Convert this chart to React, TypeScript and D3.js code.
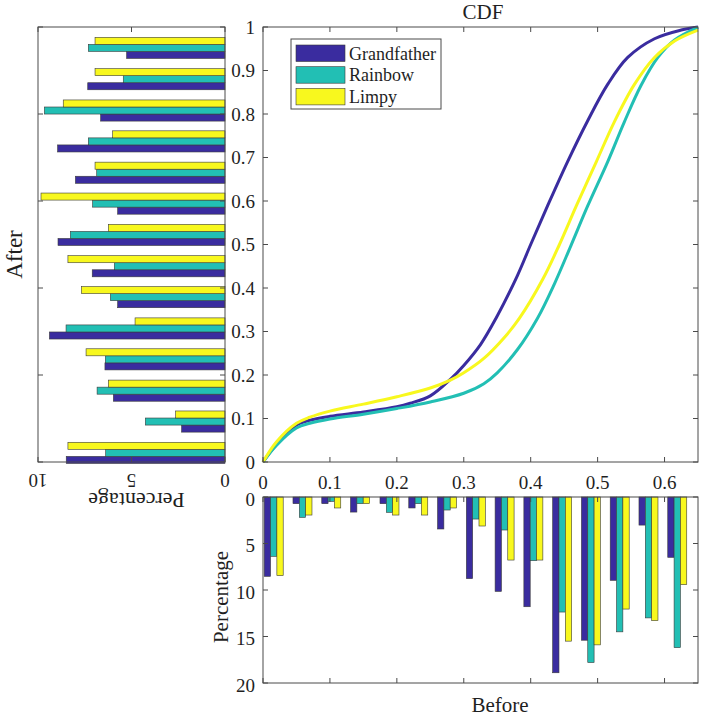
import React from "react";
import * as d3 from "d3";

const seriesNames = ["Grandfather", "Rainbow", "Limpy"];
const seriesColors = ["#3A2C9F", "#22BFB4", "#F8F81E"];

// CDF samples (x = Before value, y = cumulative probability)
const cdfGrandfather: [number, number][] = [
  [0, 0], [0.02, 0.04], [0.05, 0.085], [0.07, 0.096], [0.1, 0.105], [0.15, 0.115],
  [0.2, 0.127], [0.22, 0.135], [0.25, 0.152], [0.28, 0.19], [0.3, 0.222], [0.325, 0.27],
  [0.348, 0.33], [0.38, 0.428], [0.4, 0.5], [0.425, 0.588], [0.455, 0.69],
  [0.485, 0.784], [0.515, 0.868], [0.545, 0.93], [0.585, 0.973], [0.625, 0.993], [0.65, 1.0],
];
const cdfRainbow: [number, number][] = [
  [0, 0], [0.02, 0.038], [0.05, 0.078], [0.07, 0.089], [0.1, 0.099], [0.15, 0.11],
  [0.2, 0.123], [0.25, 0.138], [0.3, 0.158], [0.33, 0.18], [0.35, 0.205], [0.38, 0.258],
  [0.41, 0.33], [0.435, 0.408], [0.46, 0.497], [0.485, 0.588], [0.515, 0.69],
  [0.54, 0.782], [0.565, 0.866], [0.59, 0.93], [0.615, 0.97], [0.65, 0.999],
];
const cdfLimpy: [number, number][] = [
  [0, 0], [0.02, 0.046], [0.05, 0.089], [0.07, 0.103], [0.1, 0.117], [0.15, 0.133],
  [0.2, 0.15], [0.25, 0.17], [0.28, 0.188], [0.3, 0.205], [0.33, 0.238], [0.36, 0.285],
  [0.383, 0.33], [0.418, 0.42], [0.443, 0.5], [0.468, 0.588], [0.498, 0.69],
  [0.525, 0.782], [0.555, 0.868], [0.585, 0.93], [0.615, 0.968], [0.65, 0.993],
];

// Histogram of "After" (left panel)
const afterCenters = [0.021, 0.093, 0.164, 0.236, 0.307, 0.379, 0.45, 0.522, 0.594, 0.665, 0.737, 0.808, 0.88, 0.952];
const afterGrandfather = [8.49, 2.32, 5.97, 6.42, 9.39, 5.74, 7.1, 8.93, 5.74, 8.0, 8.95, 6.65, 7.34, 5.26];
const afterRainbow = [6.38, 4.26, 6.84, 6.4, 8.5, 6.13, 5.92, 8.27, 7.08, 6.86, 7.31, 9.66, 5.44, 7.31];
const afterLimpy = [8.4, 2.64, 6.24, 7.43, 4.81, 7.68, 8.4, 6.24, 9.84, 6.95, 6.01, 8.65, 6.95, 6.95];

// Histogram of "Before" (bottom panel)
const beforeCenters = [0.016, 0.059, 0.102, 0.145, 0.189, 0.232, 0.275, 0.318, 0.361, 0.404, 0.447, 0.49, 0.533, 0.576, 0.619];
const beforeGrandfather = [8.53, 0.72, 0.72, 1.62, 0.72, 1.18, 3.44, 8.78, 10.15, 11.8, 18.9, 15.4, 8.96, 3.02, 6.49];
const beforeRainbow = [6.38, 2.19, 0.47, 0.72, 1.65, 0.72, 1.4, 2.37, 3.55, 6.85, 12.37, 17.8, 14.5, 13.0, 16.2];
const beforeLimpy = [8.46, 1.94, 1.18, 0.72, 1.94, 1.94, 1.18, 3.12, 6.78, 6.78, 15.5, 15.9, 12.05, 13.3, 9.43];

const mainXTicks = [0, 0.1, 0.2, 0.3, 0.4, 0.5, 0.6];
const mainYTicks = [0, 0.1, 0.2, 0.3, 0.4, 0.5, 0.6, 0.7, 0.8, 0.9, 1];
const leftXTicks = [0, 5, 10];
const leftYTicks = [0, 0.2, 0.4, 0.6, 0.8, 1];
const bottomYTicks = [0, 5, 10, 15, 20];

const FONT = "Liberation Serif, Times New Roman, Times, serif";
const AX = "#4a4a4a";
const EDGE = "#3a3a3a";
const TL = 5;
const TXT = "#1f1f1f";

export default function App() {
  // layout
  const mL = 263, mR = 698, mT = 27, mB = 462;
  const lL = 38, lR = 225;
  const bT = 497, bB = 683;

  const x = d3.scaleLinear().domain([0, 0.65]).range([mL, mR]);
  const y = d3.scaleLinear().domain([0, 1]).range([mB, mT]);
  const lx = d3.scaleLinear().domain([0, 10]).range([lR, lL]);
  const by = d3.scaleLinear().domain([0, 20]).range([bT, bB]);

  const line = d3
    .line<[number, number]>()
    .x((d) => x(d[0]))
    .y((d) => y(d[1]))
    .curve(d3.curveCatmullRom.alpha(0.5));

  const cdfs = [cdfGrandfather, cdfRainbow, cdfLimpy];
  const afterSeries = [afterGrandfather, afterRainbow, afterLimpy];
  const beforeSeries = [beforeGrandfather, beforeRainbow, beforeLimpy];

  const afterStep = Math.abs(y(afterCenters[1]) - y(afterCenters[0]));
  const afterThick = afterStep * 0.225;
  const beforeStep = x(beforeCenters[1]) - x(beforeCenters[0]);
  const beforeThick = beforeStep * 0.22;

  const ts = { fontFamily: FONT };

  return (
    <svg width={702} height={716} style={{ position: "absolute", left: 0, top: 0, background: "#fff", fontFamily: FONT }}>
      <rect x={0} y={0} width={702} height={716} fill="#fff" />

      {/* ===== Left histogram (After) ===== */}
      <g>
        {afterSeries.map((vals, s) =>
          vals.map((v, i) => {
            const cy = y(afterCenters[i]);
            const yTop = cy + (1 - s) * afterThick - afterThick / 2;
            return (
              <rect
                key={`a${s}-${i}`}
                x={lx(v)}
                y={yTop}
                width={lx(0) - lx(v)}
                height={afterThick}
                fill={seriesColors[s]}
                stroke={EDGE}
                strokeWidth={0.6}
              />
            );
          })
        )}
        <rect x={lL} y={mT} width={lR - lL} height={mB - mT} fill="none" stroke={AX} strokeWidth={1} />
        {leftXTicks.map((t) => (
          <g key={`lxt${t}`}>
            <line x1={lx(t)} x2={lx(t)} y1={mB} y2={mB - TL} stroke={AX} />
            <line x1={lx(t)} x2={lx(t)} y1={mT} y2={mT + TL} stroke={AX} />
            <text
              transform={`translate(${lx(t)},${mB + 18}) rotate(180)`}
              textAnchor="middle"
              dominantBaseline="central"
              fontSize={19}
              fill={TXT}
              style={ts}
            >
              {t}
            </text>
          </g>
        ))}
        {leftYTicks.map((t) => (
          <g key={`lyt${t}`}>
            <line x1={lL} x2={lL + TL} y1={y(t)} y2={y(t)} stroke={AX} />
            <line x1={lR} x2={lR - TL} y1={y(t)} y2={y(t)} stroke={AX} />
          </g>
        ))}
        <text
          transform={`translate(${(lL + lR) / 2 + 5},${mB + 38}) rotate(180)`}
          textAnchor="middle"
          dominantBaseline="central"
          fontSize={22}
          fill={TXT}
          style={ts}
        >
          Percentage
        </text>
        <text
          transform={`translate(${14},${(mT + mB) / 2 + 10}) rotate(-90)`}
          textAnchor="middle"
          dominantBaseline="central"
          fontSize={23}
          fill={TXT}
          style={ts}
        >
          After
        </text>
      </g>

      {/* ===== Main CDF ===== */}
      <g>
        <text x={483} y={19} textAnchor="middle" fontSize={21} fill={TXT} style={ts}>
          CDF
        </text>
        {cdfs.map((d, s) => (
          <path key={`c${s}`} d={line(d) || ""} fill="none" stroke={seriesColors[s]} strokeWidth={3} />
        ))}
        <rect x={mL} y={mT} width={mR - mL} height={mB - mT} fill="none" stroke={AX} strokeWidth={1} />
        {mainXTicks.map((t) => (
          <g key={`mxt${t}`}>
            <line x1={x(t)} x2={x(t)} y1={mB} y2={mB - TL} stroke={AX} />
            <line x1={x(t)} x2={x(t)} y1={mT} y2={mT + TL} stroke={AX} />
            <text x={x(t)} y={mB + 20} textAnchor="middle" dominantBaseline="central" fontSize={19} fill={TXT} style={ts}>
              {t}
            </text>
          </g>
        ))}
        {mainYTicks.map((t) => (
          <g key={`myt${t}`}>
            <line x1={mL} x2={mL + TL} y1={y(t)} y2={y(t)} stroke={AX} />
            <line x1={mR} x2={mR - TL} y1={y(t)} y2={y(t)} stroke={AX} />
            <text x={mL - 8} y={y(t)} textAnchor="end" dominantBaseline="central" fontSize={19} fill={TXT} style={ts}>
              {t}
            </text>
          </g>
        ))}
        {/* legend */}
        <g>
          <rect x={291} y={39} width={150} height={70} fill="#fff" stroke={AX} strokeWidth={1} />
          {seriesNames.map((n, s) => (
            <g key={`lg${s}`}>
              <rect x={296} y={45 + s * 21.7} width={49} height={16.5} fill={seriesColors[s]} stroke={EDGE} strokeWidth={0.6} />
              <text x={349} y={53.5 + s * 21.7} dominantBaseline="central" fontSize={18} fill={TXT} style={ts}>
                {n}
              </text>
            </g>
          ))}
        </g>
      </g>

      {/* ===== Bottom histogram (Before) ===== */}
      <g>
        {beforeSeries.map((vals, s) =>
          vals.map((v, i) => {
            const cx = x(beforeCenters[i]);
            const xL = cx + (s - 1) * beforeThick - beforeThick / 2;
            return (
              <rect
                key={`b${s}-${i}`}
                x={xL}
                y={by(0)}
                width={beforeThick}
                height={by(v) - by(0)}
                fill={seriesColors[s]}
                stroke={EDGE}
                strokeWidth={0.6}
              />
            );
          })
        )}
        <rect x={mL} y={bT} width={mR - mL} height={bB - bT} fill="none" stroke={AX} strokeWidth={1} />
        {mainXTicks.map((t) => (
          <g key={`bxt${t}`}>
            <line x1={x(t)} x2={x(t)} y1={bB} y2={bB - TL} stroke={AX} />
            <line x1={x(t)} x2={x(t)} y1={bT} y2={bT + TL} stroke={AX} />
          </g>
        ))}
        {bottomYTicks.map((t) => (
          <g key={`byt${t}`}>
            <line x1={mL} x2={mL + TL} y1={by(t)} y2={by(t)} stroke={AX} />
            <line x1={mR} x2={mR - TL} y1={by(t)} y2={by(t)} stroke={AX} />
            <text x={mL - 8} y={by(t) + 2} textAnchor="end" dominantBaseline="central" fontSize={19} fill={TXT} style={ts}>
              {t}
            </text>
          </g>
        ))}
        <text
          transform={`translate(${221},${597}) rotate(-90)`}
          textAnchor="middle"
          dominantBaseline="central"
          fontSize={21}
          fill={TXT}
          style={ts}
        >
          Percentage
        </text>
        <text x={500} y={712} textAnchor="middle" fontSize={21} fill={TXT} style={ts}>
          Before
        </text>
      </g>
    </svg>
  );
}
